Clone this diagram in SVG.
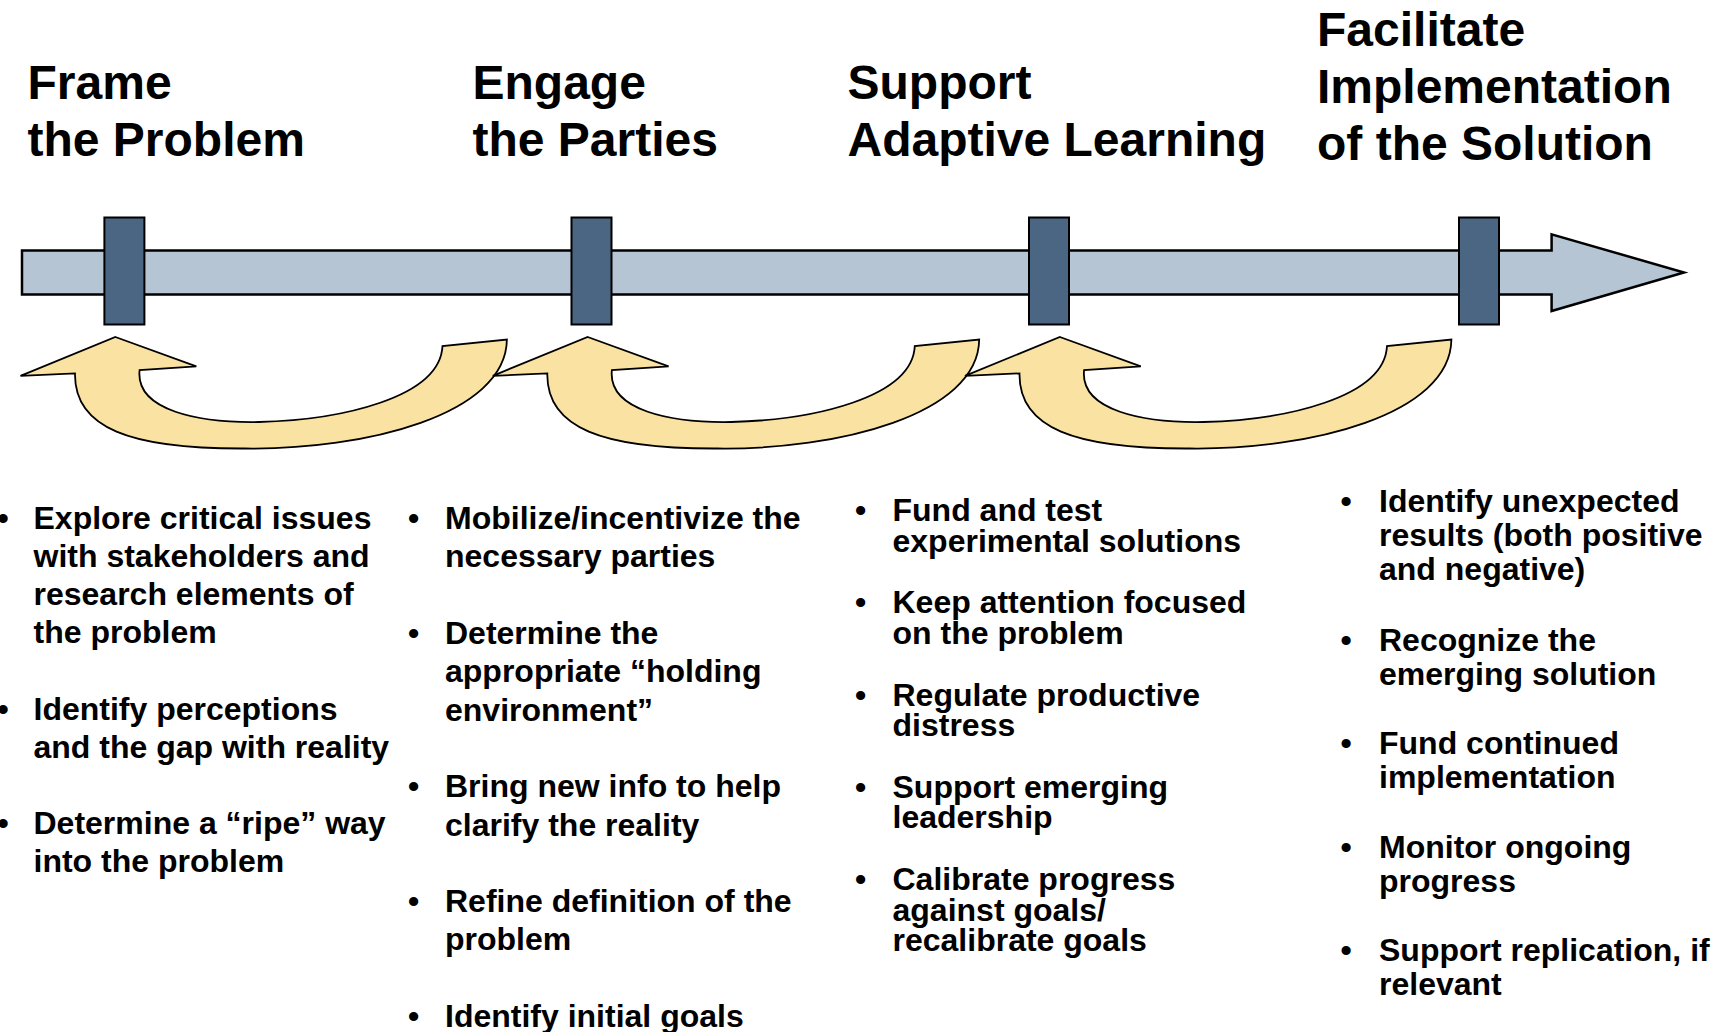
<svg xmlns="http://www.w3.org/2000/svg" xmlns:xlink="http://www.w3.org/1999/xlink" width="1723" height="1032" viewBox="0 0 1723 1032">
  <style>
    .head { font-family: "Liberation Sans", Arial, sans-serif; font-weight: bold; font-size: 48px; fill: #000; }
    .body { font-family: "Liberation Sans", Arial, sans-serif; font-weight: bold; font-size: 32px; fill: #000; }
    .bar { fill: #B6C5D4; stroke: #000; stroke-width: 2.5; stroke-linejoin: miter; }
    .stop { fill: #4A6682; stroke: #000; stroke-width: 2; }
    .loop { fill: #FAE2A3; stroke: #000; stroke-width: 1.8; stroke-linejoin: miter; }
  </style>
  <defs>
    <!-- curved feedback arrow: tail on the right, head pointing up at the stage marker -->
    <path id="loopShape" d="M115.4,337 L196.3,366.3 L139.6,370 C135,411 200,423 259,422 C340,420 440,398 442.5,346 L506.9,339.6 C506,415 365,450 245,448.5 C130,449 74,428 75,373.4 L20.5,375.8 Z"/>
  </defs>
  <rect width="1723" height="1032" fill="#fff"/>

  <g id="connectors">
    <!-- main timeline arrow -->
    <path class="bar" d="M22,250.5 H1551.6 V234.3 L1684,272.5 L1551.6,311 V294.5 H22 Z"/>
    <!-- feedback loops between stages -->
    <use xlink:href="#loopShape" href="#loopShape" class="loop"/>
    <use xlink:href="#loopShape" href="#loopShape" class="loop" transform="translate(472.3 0)"/>
    <use xlink:href="#loopShape" href="#loopShape" class="loop" transform="translate(944.5 0)"/>
  </g>

  <g id="stage-frame">
    <rect class="stop" x="104.4" y="217.5" width="40" height="107"/>
    <text class="head" x="27.5"><tspan x="27.5" y="99">Frame</tspan><tspan x="27.5" y="156">the Problem</tspan></text>
    <text class="body">
      <tspan x="-2.5" y="529">•</tspan><tspan x="33.5" y="529">Explore critical issues</tspan>
      <tspan x="33.5" y="567">with stakeholders and</tspan>
      <tspan x="33.5" y="605">research elements of</tspan>
      <tspan x="33.5" y="643">the problem</tspan>
      <tspan x="-2.5" y="720">•</tspan><tspan x="33.5" y="720">Identify perceptions</tspan>
      <tspan x="33.5" y="758">and the gap with reality</tspan>
      <tspan x="-2.5" y="834">•</tspan><tspan x="33.5" y="834">Determine a “ripe” way</tspan>
      <tspan x="33.5" y="872">into the problem</tspan>
    </text>
  </g>

  <g id="stage-engage">
    <rect class="stop" x="571.5" y="217.5" width="40" height="107"/>
    <text class="head"><tspan x="472.5" y="99">Engage</tspan><tspan x="472.5" y="156">the Parties</tspan></text>
    <text class="body">
      <tspan x="408" y="529">•</tspan><tspan x="445" y="529">Mobilize/incentivize the</tspan>
      <tspan x="445" y="567.3">necessary parties</tspan>
      <tspan x="408" y="644">•</tspan><tspan x="445" y="644">Determine the</tspan>
      <tspan x="445" y="682.3">appropriate “holding</tspan>
      <tspan x="445" y="720.6">environment”</tspan>
      <tspan x="408" y="797.2">•</tspan><tspan x="445" y="797.2">Bring new info to help</tspan>
      <tspan x="445" y="835.5">clarify the reality</tspan>
      <tspan x="408" y="912">•</tspan><tspan x="445" y="912">Refine definition of the</tspan>
      <tspan x="445" y="950.3">problem</tspan>
      <tspan x="408" y="1026.9">•</tspan><tspan x="445" y="1026.9">Identify initial goals</tspan>
    </text>
  </g>

  <g id="stage-support">
    <rect class="stop" x="1029" y="217.5" width="40" height="107"/>
    <text class="head"><tspan x="847.5" y="99">Support</tspan><tspan x="847.5" y="156">Adaptive Learning</tspan></text>
    <text class="body">
      <tspan x="855" y="521">•</tspan><tspan x="892.5" y="521">Fund and test</tspan>
      <tspan x="892.5" y="551.5">experimental solutions</tspan>
      <tspan x="855" y="613.3">•</tspan><tspan x="892.5" y="613.3">Keep attention focused</tspan>
      <tspan x="892.5" y="643.8">on the problem</tspan>
      <tspan x="855" y="705.6">•</tspan><tspan x="892.5" y="705.6">Regulate productive</tspan>
      <tspan x="892.5" y="736.1">distress</tspan>
      <tspan x="855" y="797.9">•</tspan><tspan x="892.5" y="797.9">Support emerging</tspan>
      <tspan x="892.5" y="828.4">leadership</tspan>
      <tspan x="855" y="890">•</tspan><tspan x="892.5" y="890">Calibrate progress</tspan>
      <tspan x="892.5" y="920.5">against goals/</tspan>
      <tspan x="892.5" y="951">recalibrate goals</tspan>
    </text>
  </g>

  <g id="stage-facilitate">
    <rect class="stop" x="1459" y="217.5" width="40" height="107"/>
    <text class="head"><tspan x="1317" y="46">Facilitate</tspan><tspan x="1317" y="103">Implementation</tspan><tspan x="1317" y="160">of the Solution</tspan></text>
    <text class="body">
      <tspan x="1340.5" y="512">•</tspan><tspan x="1379" y="512">Identify unexpected</tspan>
      <tspan x="1379" y="546">results (both positive</tspan>
      <tspan x="1379" y="580">and negative)</tspan>
      <tspan x="1340.5" y="650.5">•</tspan><tspan x="1379" y="650.5">Recognize the</tspan>
      <tspan x="1379" y="684.5">emerging solution</tspan>
      <tspan x="1340.5" y="754">•</tspan><tspan x="1379" y="754">Fund continued</tspan>
      <tspan x="1379" y="788">implementation</tspan>
      <tspan x="1340.5" y="858">•</tspan><tspan x="1379" y="858">Monitor ongoing</tspan>
      <tspan x="1379" y="892">progress</tspan>
      <tspan x="1340.5" y="960.5">•</tspan><tspan x="1379" y="960.5">Support replication, if</tspan>
      <tspan x="1379" y="994.5">relevant</tspan>
    </text>
  </g>
</svg>
